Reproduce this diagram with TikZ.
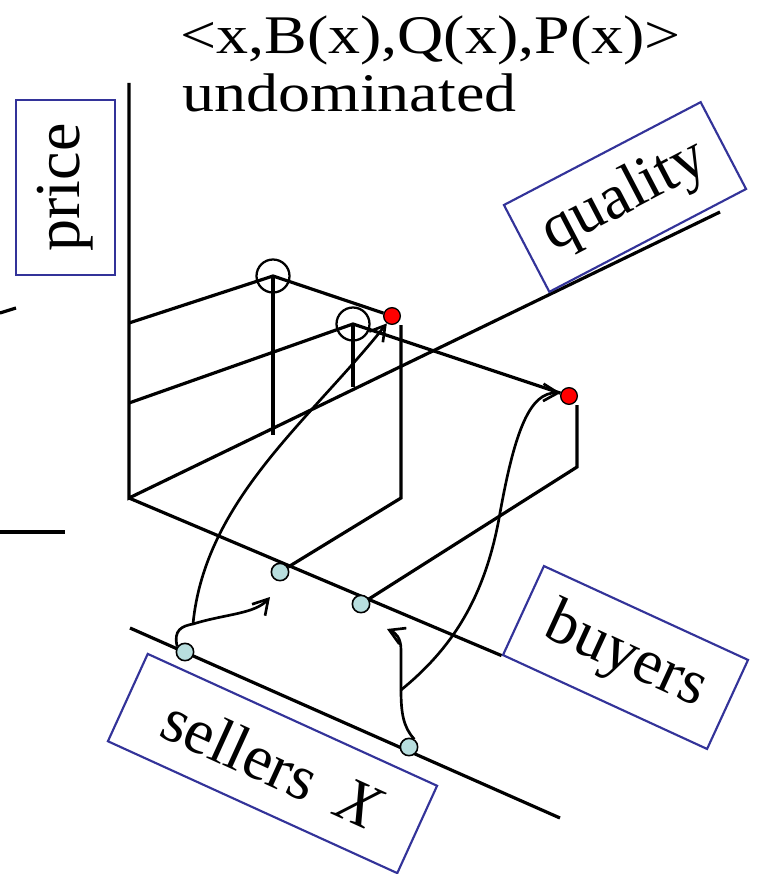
\documentclass[tikz,border=0pt]{standalone}
\usepackage{fontspec}
\setmainfont{Liberation Serif}
\usetikzlibrary{arrows.meta}
\definecolor{boxblue}{RGB}{51,51,153}
\definecolor{agentfill}{RGB}{184,222,222}
\pgfdeclarelayer{back}
\pgfsetlayers{back,main}
\newcommand{\bigtext}{\fontsize{48pt}{57pt}\selectfont}
\newcommand{\squat}[1]{\scalebox{1}[0.85]{#1}}

\begin{document}
\begin{tikzpicture}[x=0.75pt,y=-0.75pt,
  axis/.style={line width=2.4pt},
  flow/.style={line width=2pt},
  tip/.style={-{Straight Barb[length=11pt,width=13pt]}},
  labelbox/.style={draw=boxblue, line width=1.6pt, fill=white, inner sep=0pt, font=\bigtext},
  hollow/.style={circle, draw, line width=1.7pt, minimum size=24.75pt, inner sep=0pt},
  reddot/.style={circle, draw, fill=red, line width=1pt, minimum size=12.5pt, inner sep=0pt},
  agent/.style={circle, draw, fill=agentfill, line width=1.2pt, minimum size=13pt, inner sep=0pt},
  heading/.style={font=\bigtext, anchor=base west, inner sep=0pt}]
\useasboundingbox (0,0) rectangle (758,874);

% corner points of the frame
\coordinate (O) at (129,498);
\coordinate (Ptop) at (129,83);
\coordinate (Qend) at (720,212);
\coordinate (Sa) at (130,628);
\coordinate (Sb) at (560,818);
\coordinate (p1) at (129,323);
\coordinate (p2) at (129,403);
\coordinate (f1) at (273,435);
\coordinate (f2) at (353,387);
\coordinate (k1) at (401,498);
\coordinate (t1) at (401,325);
\coordinate (k2) at (577,467);
\coordinate (t2) at (577,405);
\coordinate (j1) at (193,624);
\coordinate (a1) at (270,597);
\coordinate (j2) at (401,690);
\coordinate (a2) at (387,629);
\coordinate (m2) at (500,513);

% labels
\node[heading] (title1) at (180,54) {\squat{<x,B(x),Q(x),P(x)>}};
\node[heading] (title2) at (182,112) {\squat{undominated}};
\node[labelbox, rotate=90, minimum width=131.25pt, minimum height=74.25pt] (price) at (65.5,187.5) {price};
\node[labelbox, rotate=27.6, minimum width=166.5pt, minimum height=73.5pt] (quality) at (625,197) {quality};
\node[labelbox, rotate=-24.7, minimum width=168.5pt, minimum height=73.5pt] (buyers) at (625.5,657.5) {buyers};
\node[labelbox, rotate=-24.5, minimum width=238.5pt, minimum height=72pt] (sellers) at (272.5,763.5) {sellers\hspace{0.45em}\textit{X}};

% points
\node[hollow] (c1) at (273,276) {};
\node[hollow] (c2) at (353,324) {};
\node[reddot] (r1) at (392,316) {};
\node[reddot] (r2) at (569,396) {};
\node[agent] (b1) at (280,572) {};
\node[agent] (b2) at (361,604) {};
\node[agent] (s1) at (185,652) {};
\node[agent] (s2) at (409,747) {};

\begin{pgfonlayer}{back}
  \draw[axis] (Ptop) -- (O) -- (Qend);
  \draw[axis] (O) -- (buyers.south west);
  \draw[axis] (Sa) -- (Sb);
  \draw[axis] (0,313) -- (16,308);
  \draw[axis] (0,532) -- (65,532);
  \draw[axis] (p1) -- (c1.center) -- (r1);
  \draw[axis] (c1.center) -- (f1);
  \draw[axis] (p2) -- (c2.center) -- (r2);
  \draw[axis] (c2.center) -- (f2);
  \draw[axis] (b1) -- (k1) -- (t1);
  \draw[axis] (b2) -- (k2) -- (t2);
\end{pgfonlayer}

% matching moves
\draw[flow] (s1.145) .. controls (173,630) and (182,626) .. (j1);
\draw[flow,tip] (j1) .. controls (205,500) and (310,420) .. (r1.235);
\draw[flow,tip] (j1) .. controls (225,614) and (255,614) .. (a1);
\draw[flow] (s2.56) .. controls (403,727) and (401,712) .. (j2);
\draw[flow,tip] (j2) -- (401,650) .. controls (401,638) and (396,633) .. (a2);
\draw[flow,tip] (j2) .. controls (450,650) and (485,600) .. (m2)
  .. controls (515,430) and (530,392) .. (r2.160);
\end{tikzpicture}
\end{document}
